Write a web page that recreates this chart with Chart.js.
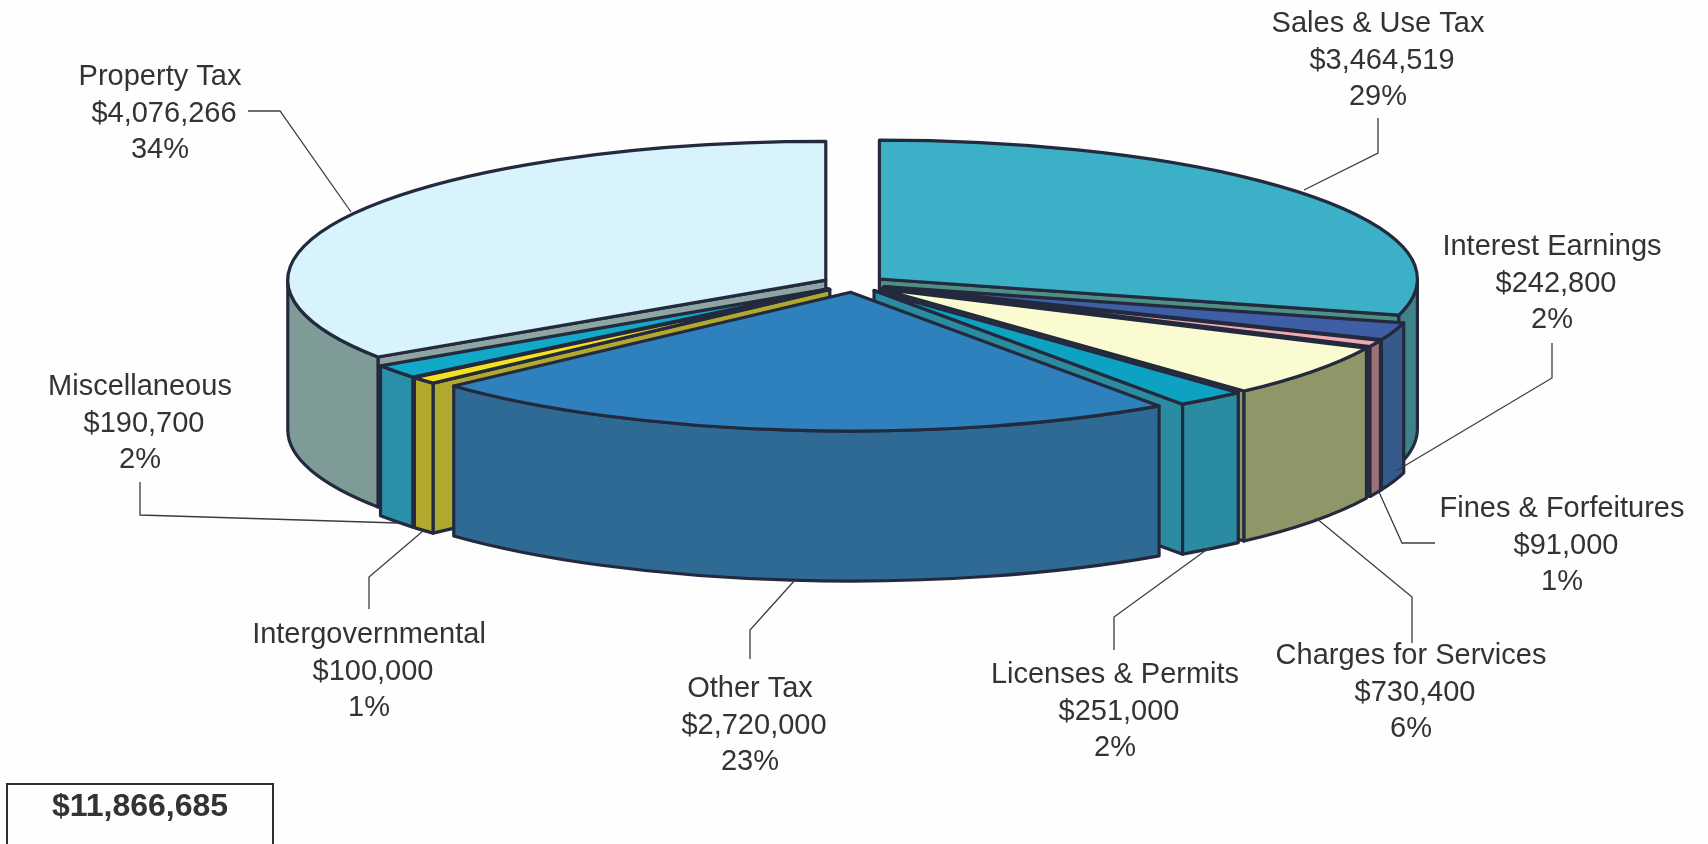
<!DOCTYPE html>
<html>
<head>
<meta charset="utf-8">
<title>Revenue by Source</title>
<script src="https://cdn.jsdelivr.net/npm/chart.js@4/dist/chart.umd.js"></script>
<style>
  html, body { margin: 0; padding: 0; background: #fefefe; overflow: hidden; }
  canvas { display: block; }
</style>
</head>
<body>
<canvas id="revenuePie" width="1708" height="844"></canvas>
<script>
// revenue sources, clockwise from twelve o'clock
const categories = ['Sales & Use Tax', 'Interest Earnings', 'Fines & Forfeitures', 'Charges for Services',
    'Licenses & Permits', 'Other Tax', 'Intergovernmental', 'Miscellaneous', 'Property Tax'];
const revenues = [3464519, 242800, 91000, 730400, 251000, 2720000, 100000, 190700, 4076266];
const totalLabel = '$11,866,685';

// slice colours: top surface, outer wall, cut face
const topColors = ['#3cb0c6', '#3e5fa6', '#f2aab2', '#fbfbd2', '#0ea2c2', '#2f81bd', '#f6e11e', '#12a8c8', '#d8f3fc'];
const wallColors = ['#40828a', '#365a8c', '#9a7278', '#8f9769', '#2a8ba1', '#2f6a94', '#b1a92e', '#2a8fa8', '#7f9b97'];
const faceColors = ['#4f8f86', '#365a8c', '#9a7278', '#8f9769', '#2a8ba1', '#2f6a94', '#b1a92e', '#2a8fa8', '#8ea5a3'];

// label centre x and first line y, same order as categories
const labelX = [1378, 1552, 1562, 1411, 1115, 750, 369, 140, 160];
const labelY = [24, 247, 509, 656, 675, 689, 635, 387, 77];
const leaderLines = [
    [[1378, 118], [1378, 153], [1304, 190]],
    [[1552, 343], [1552, 378], [1396, 471]],
    [[1435, 543], [1402, 543], [1379, 492]],
    [[1412, 643], [1412, 597], [1316, 518]],
    [[1114, 650], [1114, 617], [1209, 548]],
    [[750, 659], [750, 630], [795, 580]],
    [[369, 609], [369, 577], [423, 531]],
    [[140, 482], [140, 515], [398, 523]],
    [[248, 111], [280, 111], [351, 212]]
];

const tilt = 0.258;       // ellipse height / width of the pie
const depth = 150;        // wall height
const outline = '#232a3e';
const textColor = '#333333';
const lineGap = 36.7;
const amountShift = 4;    // dollar line sits a little right of the other two

const total = revenues.reduce((a, b) => a + b, 0);

// draws one exploded slice as face, wall and top, in that order
function drawSlice(ctx, arc, i) {
    const a = arc.startAngle, b = arc.endAngle, r = arc.outerRadius;
    const ry = r * tilt;
    const mid = (a + b) / 2;
    const cx = arc.x + Math.cos(mid) * arc.options.offset;
    const cy = arc.y + Math.sin(mid) * arc.options.offset * tilt;

    ctx.lineWidth = 3.2;
    ctx.lineJoin = 'round';
    ctx.strokeStyle = outline;

    // only cut faces turned towards the viewer
    const face = (angle) => {
        const rimX = cx + Math.cos(angle) * r, rimY = cy + Math.sin(angle) * ry;
        ctx.beginPath();
        ctx.moveTo(cx, cy);
        ctx.lineTo(rimX, rimY);
        ctx.lineTo(rimX, rimY + depth);
        ctx.lineTo(cx, cy + depth);
        ctx.closePath();
        ctx.fillStyle = faceColors[i];
        ctx.fill();
        ctx.stroke();
    };
    if (Math.cos(a) < 0) face(a);
    if (Math.cos(b) > 0) face(b);

    // outer wall, front half of the ellipse only
    const from = Math.max(a, 0), to = Math.min(b, Math.PI);
    if (from < to) {
        ctx.beginPath();
        ctx.ellipse(cx, cy, r, ry, 0, from, to);
        ctx.ellipse(cx, cy + depth, r, ry, 0, to, from, true);
        ctx.closePath();
        ctx.fillStyle = wallColors[i];
        ctx.fill();
        ctx.stroke();
    }

    ctx.beginPath();
    ctx.moveTo(cx, cy);
    ctx.ellipse(cx, cy, r, ry, 0, a, b);
    ctx.closePath();
    ctx.fillStyle = arc.options.backgroundColor;
    ctx.fill();
    ctx.stroke();
}

const pie3d = {
    id: 'pie3d',
    beforeDatasetDraw(chart, args) {
        const ctx = chart.ctx;
        const arcs = args.meta.data;
        // back slices first so the front ones cover them
        const order = arcs.map((_, i) => i).sort((p, q) =>
            Math.sin((arcs[p].startAngle + arcs[p].endAngle) / 2) -
            Math.sin((arcs[q].startAngle + arcs[q].endAngle) / 2));
        ctx.save();
        order.forEach(i => drawSlice(ctx, arcs[i], i));
        ctx.restore();
        return false;
    },
    afterDraw(chart) {
        const ctx = chart.ctx;
        ctx.save();

        ctx.strokeStyle = '#3c3c3c';
        ctx.lineWidth = 1.3;
        leaderLines.forEach(pts => {
            ctx.beginPath();
            pts.forEach((p, k) => k ? ctx.lineTo(p[0], p[1]) : ctx.moveTo(p[0], p[1]));
            ctx.stroke();
        });

        ctx.fillStyle = textColor;
        ctx.textAlign = 'center';
        ctx.textBaseline = 'middle';
        ctx.font = '29px "Liberation Sans"';
        categories.forEach((name, i) => {
            ctx.fillText(name, labelX[i], labelY[i]);
            ctx.fillText('$' + revenues[i].toLocaleString('en-US'), labelX[i] + amountShift, labelY[i] + lineGap);
            ctx.fillText(Math.round(revenues[i] / total * 100) + '%', labelX[i], labelY[i] + 2 * lineGap);
        });

        // total box runs off the bottom of the page
        ctx.strokeStyle = '#2e2e2e';
        ctx.lineWidth = 2;
        ctx.strokeRect(7, 784, 266, 80);
        ctx.font = 'bold 32px "Liberation Sans"';
        ctx.fillText(totalLabel, 140, 807);
        ctx.restore();
    }
};

new Chart(document.getElementById('revenuePie'), {
    type: 'pie',
    data: {
        labels: categories,
        datasets: [{
            data: revenues,
            backgroundColor: topColors,
            offset: 32,
            radius: 538
        }]
    },
    options: {
        responsive: false,
        animation: false,
        events: [],
        layout: { padding: { bottom: 276 } },
        plugins: { legend: { display: false }, tooltip: { enabled: false } }
    },
    plugins: [pie3d]
});
</script>
</body>
</html>
